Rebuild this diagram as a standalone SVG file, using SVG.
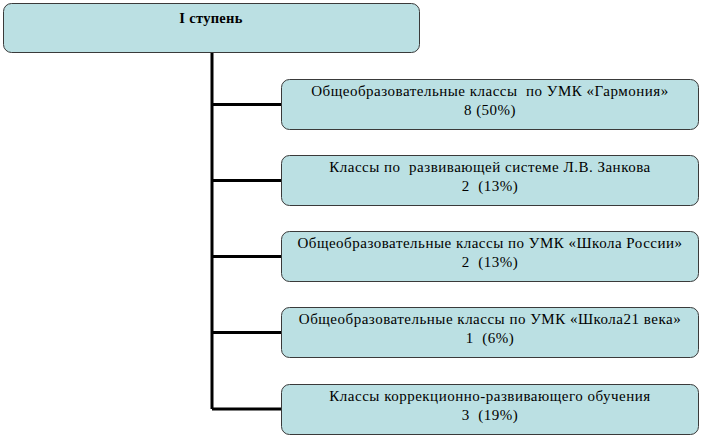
<svg xmlns="http://www.w3.org/2000/svg" width="702" height="438" viewBox="0 0 702 438">
<style>
.box{fill:#BBE0E3;stroke:#3a3a3a;stroke-width:1}
.t{font-family:'Liberation Serif','Times New Roman',serif;font-size:15px;letter-spacing:0.5px;fill:#000;text-anchor:middle;white-space:pre}
.b{font-weight:bold;font-size:14.5px;letter-spacing:0.3px}
.c{fill:none;stroke:#000;stroke-width:3}
</style>
<rect width="702" height="438" fill="#fff"/>
<g id="connectors">
<path class="c" d="M212 52V409"/>
<path class="c" d="M212 104.5H281M212 180.5H281M212 256.5H281M212 332.5H281M212 409H281"/>
</g>
<g id="root"><rect class="box" x="3.5" y="3.5" width="416" height="49" rx="8"/><text class="t b" x="211" y="23">I ступень</text></g>
<g id="n1"><rect class="box" x="281.5" y="79.5" width="417" height="50" rx="8"/><text class="t" x="490" y="96">Общеобразовательные классы  по УМК «Гармония»</text><text class="t" x="490" y="115">8 (50%)</text></g>
<g id="n2"><rect class="box" x="281.5" y="155.5" width="417" height="50" rx="8"/><text class="t" x="490" y="172">Классы по  развивающей системе Л.В. Занкова</text><text class="t" x="490" y="191">2  (13%)</text></g>
<g id="n3"><rect class="box" x="281.5" y="231.5" width="417" height="50" rx="8"/><text class="t" x="490" y="248">Общеобразовательные классы по УМК «Школа России»</text><text class="t" x="490" y="267">2  (13%)</text></g>
<g id="n4"><rect class="box" x="281.5" y="307.5" width="417" height="50" rx="8"/><text class="t" x="490" y="324">Общеобразовательные классы по УМК «Школа21 века»</text><text class="t" x="490" y="343">1  (6%)</text></g>
<g id="n5"><rect class="box" x="281.5" y="384.5" width="417" height="50" rx="8"/><text class="t" x="490" y="401">Классы коррекционно-развивающего обучения</text><text class="t" x="490" y="420">3  (19%)</text></g>
</svg>
